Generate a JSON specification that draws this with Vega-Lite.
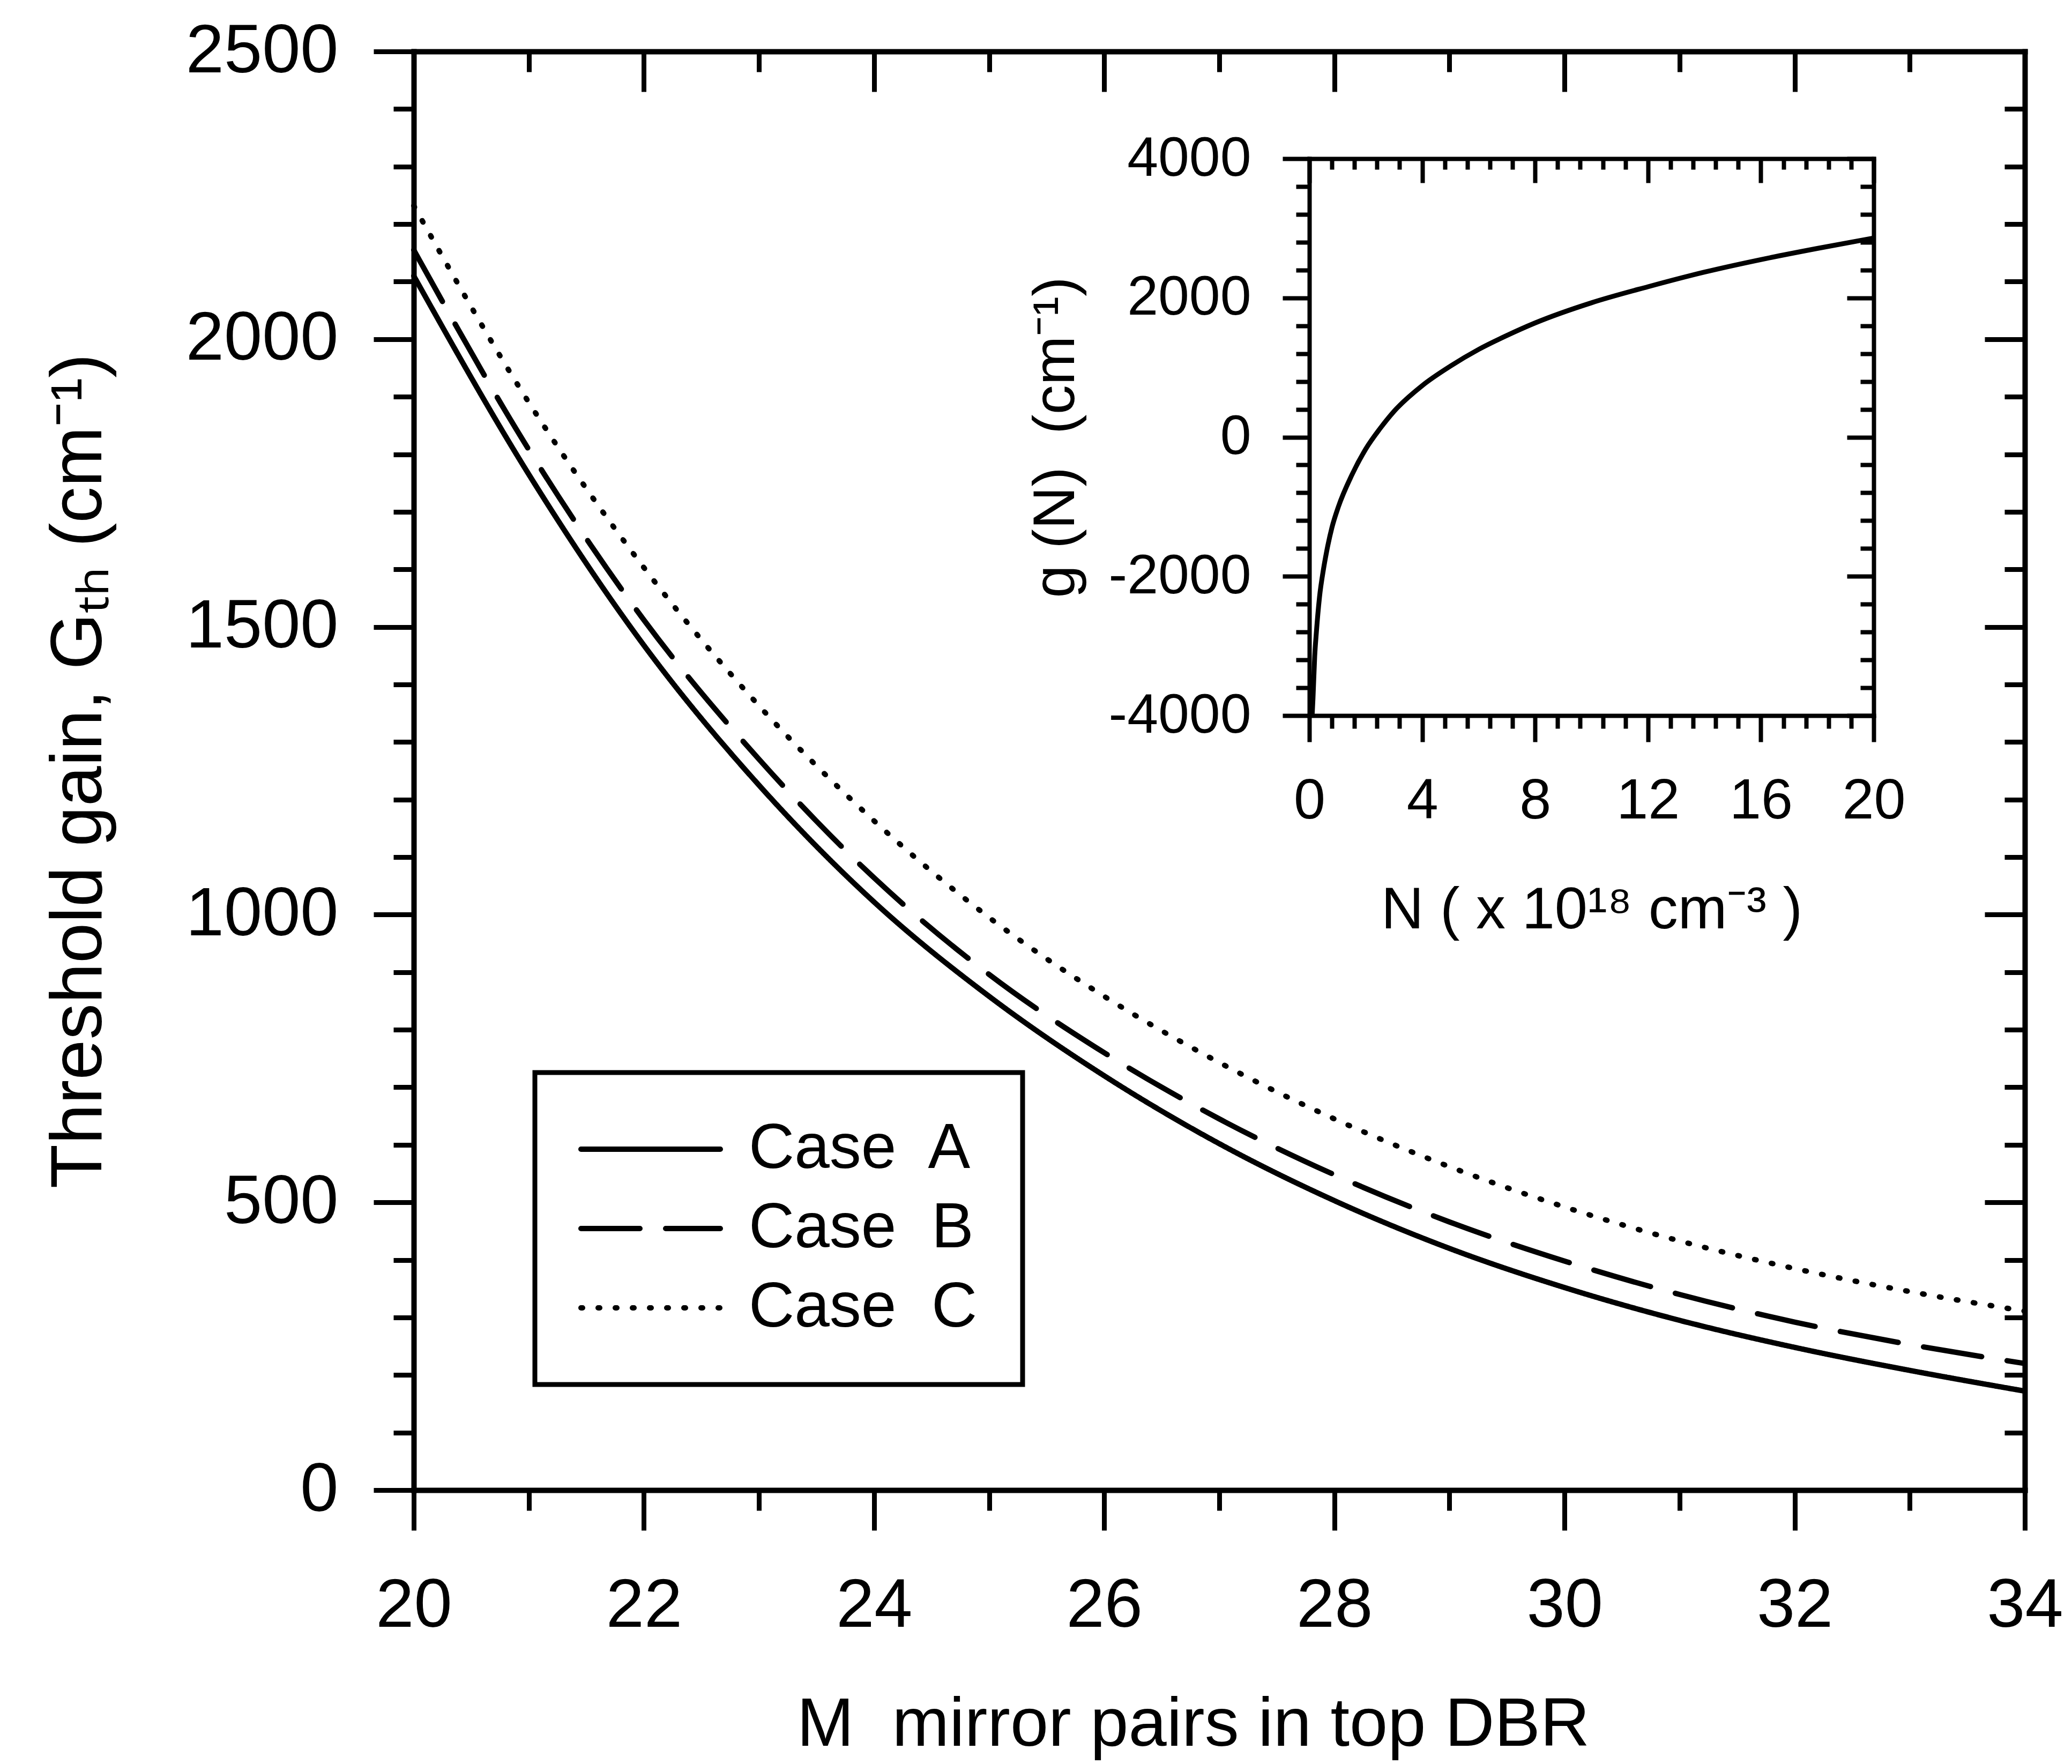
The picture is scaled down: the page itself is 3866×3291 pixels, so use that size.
{
  "$schema": "https://vega.github.io/schema/vega-lite/v6.json",
  "width": 3006,
  "height": 2684,
  "autosize": {"type": "none"},
  "padding": {"left": 772, "top": 96, "right": 88, "bottom": 511},
  "background": "white",
  "config": {
    "view": {"stroke": null},
    "font": "Liberation Sans",
    "axis": {
      "grid": false,
      "domainColor": "black",
      "tickColor": "black",
      "labelColor": "black",
      "titleColor": "black",
      "domainWidth": 10,
      "tickWidth": 9,
      "domainCap": "square",
      "labelFont": "Liberation Sans",
      "titleFont": "Liberation Sans",
      "titleFontWeight": "normal",
      "labelFlush": false,
      "labelOverlap": false,
      "labelBound": false,
      "labelLimit": 0,
      "titleLimit": 0,
      "maxExtent": 1000
    },
    "legend": {
      "strokeColor": "black",
      "strokeWidth": 9,
      "padding": 84,
      "labelFont": "Liberation Sans",
      "labelFontSize": 118,
      "labelColor": "black",
      "labelLimit": 0,
      "rowPadding": 30,
      "symbolStrokeColor": "black",
      "symbolStrokeWidth": 10
    }
  },
  "datasets": {
    "main": [
      {"M": 20, "case": "Case\u00a0 A", "G": 2110}, {"M": 21, "case": "Case\u00a0 A", "G": 1765}, {"M": 22, "case": "Case\u00a0 A", "G": 1468},
      {"M": 23, "case": "Case\u00a0 A", "G": 1225}, {"M": 24, "case": "Case\u00a0 A", "G": 1022}, {"M": 25, "case": "Case\u00a0 A", "G": 858},
      {"M": 26, "case": "Case\u00a0 A", "G": 720}, {"M": 27, "case": "Case\u00a0 A", "G": 602}, {"M": 28, "case": "Case\u00a0 A", "G": 503},
      {"M": 29, "case": "Case\u00a0 A", "G": 420}, {"M": 30, "case": "Case\u00a0 A", "G": 352}, {"M": 31, "case": "Case\u00a0 A", "G": 295},
      {"M": 32, "case": "Case\u00a0 A", "G": 248}, {"M": 33, "case": "Case\u00a0 A", "G": 208}, {"M": 34, "case": "Case\u00a0 A", "G": 172},
      {"M": 20, "case": "Case\u00a0 B", "G": 2155}, {"M": 21, "case": "Case\u00a0 B", "G": 1808}, {"M": 22, "case": "Case\u00a0 B", "G": 1512},
      {"M": 23, "case": "Case\u00a0 B", "G": 1270}, {"M": 24, "case": "Case\u00a0 B", "G": 1064}, {"M": 25, "case": "Case\u00a0 B", "G": 896},
      {"M": 26, "case": "Case\u00a0 B", "G": 760}, {"M": 27, "case": "Case\u00a0 B", "G": 645}, {"M": 28, "case": "Case\u00a0 B", "G": 548},
      {"M": 29, "case": "Case\u00a0 B", "G": 466}, {"M": 30, "case": "Case\u00a0 B", "G": 398}, {"M": 31, "case": "Case\u00a0 B", "G": 340},
      {"M": 32, "case": "Case\u00a0 B", "G": 292}, {"M": 33, "case": "Case\u00a0 B", "G": 253}, {"M": 34, "case": "Case\u00a0 B", "G": 220},
      {"M": 20, "case": "Case\u00a0 C", "G": 2232}, {"M": 21, "case": "Case\u00a0 C", "G": 1890}, {"M": 22, "case": "Case\u00a0 C", "G": 1603},
      {"M": 23, "case": "Case\u00a0 C", "G": 1363}, {"M": 24, "case": "Case\u00a0 C", "G": 1163}, {"M": 25, "case": "Case\u00a0 C", "G": 995},
      {"M": 26, "case": "Case\u00a0 C", "G": 858}, {"M": 27, "case": "Case\u00a0 C", "G": 743}, {"M": 28, "case": "Case\u00a0 C", "G": 645},
      {"M": 29, "case": "Case\u00a0 C", "G": 562}, {"M": 30, "case": "Case\u00a0 C", "G": 492}, {"M": 31, "case": "Case\u00a0 C", "G": 433},
      {"M": 32, "case": "Case\u00a0 C", "G": 385}, {"M": 33, "case": "Case\u00a0 C", "G": 345}, {"M": 34, "case": "Case\u00a0 C", "G": 311}
    ],
    "inset": [
      {"N": 0.1, "g": -4000}, {"N": 0.13, "g": -3750}, {"N": 0.19, "g": -3150}, {"N": 0.25, "g": -2800},
      {"N": 0.36, "g": -2300}, {"N": 0.5, "g": -1900}, {"N": 0.61, "g": -1650}, {"N": 0.8, "g": -1300},
      {"N": 1.03, "g": -1000}, {"N": 1.5, "g": -550}, {"N": 2.0, "g": -170}, {"N": 2.5, "g": 120},
      {"N": 3.0, "g": 370}, {"N": 4.0, "g": 740}, {"N": 5.0, "g": 1020}, {"N": 6.0, "g": 1260},
      {"N": 7.0, "g": 1460}, {"N": 8.0, "g": 1640}, {"N": 10, "g": 1930}, {"N": 12, "g": 2160},
      {"N": 14, "g": 2370}, {"N": 16, "g": 2550}, {"N": 18, "g": 2710}, {"N": 20, "g": 2860}
    ]
  },
  "resolve": {"scale": {"x": "independent", "y": "independent"}},
  "layer": [
    {
      "data": {"name": "main"},
      "resolve": {"axis": {"x": "independent", "y": "independent"}},
      "layer": [
        {
          "mark": {"type": "line", "color": "black", "strokeWidth": 10, "strokeCap": "round", "interpolate": "monotone"},
          "encoding": {
            "x": {"field": "M", "type": "quantitative",
              "scale": {"domain": [20, 34], "nice": false, "zero": false},
              "axis": {"orient": "bottom", "values": [20, 22, 24, 26, 28, 30, 32, 34], "tickSize": 75,
                "labelFontSize": 128, "labelPadding": 78,
                "title": "M\u00a0 mirror pairs in top DBR", "titleFontSize": 128, "titlePadding": 95, "titleX": 1454}},
            "y": {"field": "G", "type": "quantitative",
              "scale": {"domain": [0, 2500], "nice": false, "zero": false},
              "axis": {"orient": "left", "values": [0, 500, 1000, 1500, 2000, 2500], "tickSize": 75, "format": "d",
                "labelFontSize": 128, "labelPadding": 66,
                "title": "Threshold gain, G\u209c\u2095 (cm\u207b\u00b9)", "titleFontSize": 135, "titlePadding": 130}},
            "strokeDash": {"field": "case", "type": "nominal",
              "scale": {"domain": ["Case\u00a0 A", "Case\u00a0 B", "Case\u00a0 C"], "range": [[1, 0], [110, 48], [3, 29]]},
              "legend": {"orient": "none", "legendX": 226, "legendY": 1905, "title": null,
                "symbolType": "M-5,0H5", "symbolSize": 2704, "symbolOffset": 73, "labelOffset": 124,
                "encoding": {"symbols": {"strokeCap": {"value": "round"}}, "legend": {"strokeWidth": {"value": 9}}}}}
          }
        },
        {
          "mark": {"type": "point", "opacity": 0},
          "encoding": {
            "x": {"field": "M", "type": "quantitative", "scale": {"domain": [20, 34], "nice": false, "zero": false},
              "axis": {"orient": "bottom", "values": [21, 23, 25, 27, 29, 31, 33], "tickSize": 38, "labels": false, "domain": false, "title": null}},
            "y": {"field": "G", "type": "quantitative", "scale": {"domain": [0, 2500], "nice": false, "zero": false},
              "axis": {"orient": "left", "values": [100, 200, 300, 400, 600, 700, 800, 900, 1100, 1200, 1300, 1400, 1600, 1700, 1800, 1900, 2100, 2200, 2300, 2400], "tickSize": 38, "labels": false, "domain": false, "title": null}}
          }
        },
        {
          "mark": {"type": "point", "opacity": 0},
          "encoding": {
            "x": {"field": "M", "type": "quantitative", "scale": {"domain": [20, 34], "nice": false, "zero": false},
              "axis": {"orient": "top", "values": [20, 22, 24, 26, 28, 30, 32, 34], "tickSize": -75, "labels": false, "title": null}},
            "y": {"field": "G", "type": "quantitative", "scale": {"domain": [0, 2500], "nice": false, "zero": false},
              "axis": {"orient": "right", "values": [0, 500, 1000, 1500, 2000, 2500], "tickSize": -75, "labels": false, "title": null}}
          }
        },
        {
          "mark": {"type": "point", "opacity": 0},
          "encoding": {
            "x": {"field": "M", "type": "quantitative", "scale": {"domain": [20, 34], "nice": false, "zero": false},
              "axis": {"orient": "top", "values": [21, 23, 25, 27, 29, 31, 33], "tickSize": -38, "labels": false, "domain": false, "title": null}},
            "y": {"field": "G", "type": "quantitative", "scale": {"domain": [0, 2500], "nice": false, "zero": false},
              "axis": {"orient": "right", "values": [100, 200, 300, 400, 600, 700, 800, 900, 1100, 1200, 1300, 1400, 1600, 1700, 1800, 1900, 2100, 2200, 2300, 2400], "tickSize": -38, "labels": false, "domain": false, "title": null}}
          }
        }
      ]
    },
    {
      "data": {"name": "inset"},
      "resolve": {"axis": {"x": "independent", "y": "independent"}},
      "layer": [
        {
          "mark": {"type": "line", "color": "black", "strokeWidth": 9, "interpolate": "monotone"},
          "encoding": {
            "x": {"field": "N", "type": "quantitative",
              "scale": {"domain": [0, 20], "range": [1671, 2724], "nice": false, "zero": false},
              "axis": {"orient": "bottom", "offset": -1445, "values": [0, 4, 8, 12, 16, 20], "tickSize": 49, "domainWidth": 8, "tickWidth": 8,
                "labelFontSize": 106, "labelPadding": 58,
                "title": "N ( x 10\u00b9\u2078 cm\u207b\u00b3 )", "titleFontSize": 110, "titlePadding": 97}},
            "y": {"field": "g", "type": "quantitative",
              "scale": {"domain": [-4000, 4000], "range": [1239, 200], "nice": false, "zero": false},
              "axis": {"orient": "left", "offset": -1671, "values": [-4000, -2000, 0, 2000, 4000], "tickSize": 50, "domainWidth": 8, "tickWidth": 8,
                "labelExpr": "datum.value < 0 ? '-' + (-datum.value) : '' + datum.value",
                "labelFontSize": 104, "labelPadding": 59,
                "title": "g (N)\u00a0 (cm\u207b\u00b9)", "titleFontSize": 110, "titlePadding": 42}}
          }
        },
        {
          "mark": {"type": "point", "opacity": 0},
          "encoding": {
            "x": {"field": "N", "type": "quantitative", "scale": {"domain": [0, 20], "range": [1671, 2724], "nice": false, "zero": false},
              "axis": {"orient": "bottom", "offset": -1445, "values": [0.8, 1.6, 2.4, 3.2, 4.8, 5.6, 6.4, 7.2, 8.8, 9.6, 10.4, 11.2, 12.8, 13.6, 14.4, 15.2, 16.8, 17.6, 18.4, 19.2], "tickSize": 24, "tickWidth": 8, "labels": false, "domain": false, "title": null}},
            "y": {"field": "g", "type": "quantitative", "scale": {"domain": [-4000, 4000], "range": [1239, 200], "nice": false, "zero": false},
              "axis": {"orient": "left", "offset": -1671, "values": [-3600, -3200, -2800, -2400, -1600, -1200, -800, -400, 400, 800, 1200, 1600, 2400, 2800, 3200, 3600], "tickSize": 25, "tickWidth": 8, "labels": false, "domain": false, "title": null}}
          }
        },
        {
          "mark": {"type": "point", "opacity": 0},
          "encoding": {
            "x": {"field": "N", "type": "quantitative", "scale": {"domain": [0, 20], "range": [1671, 2724], "nice": false, "zero": false},
              "axis": {"orient": "top", "offset": -200, "values": [0, 4, 8, 12, 16, 20], "tickSize": -45, "domainWidth": 8, "tickWidth": 8, "labels": false, "title": null}},
            "y": {"field": "g", "type": "quantitative", "scale": {"domain": [-4000, 4000], "range": [1239, 200], "nice": false, "zero": false},
              "axis": {"orient": "right", "offset": -282, "values": [-4000, -2000, 0, 2000, 4000], "tickSize": -50, "domainWidth": 8, "tickWidth": 8, "labels": false, "title": null}}
          }
        },
        {
          "mark": {"type": "point", "opacity": 0},
          "encoding": {
            "x": {"field": "N", "type": "quantitative", "scale": {"domain": [0, 20], "range": [1671, 2724], "nice": false, "zero": false},
              "axis": {"orient": "top", "offset": -200, "values": [0.8, 1.6, 2.4, 3.2, 4.8, 5.6, 6.4, 7.2, 8.8, 9.6, 10.4, 11.2, 12.8, 13.6, 14.4, 15.2, 16.8, 17.6, 18.4, 19.2], "tickSize": -20, "tickWidth": 8, "labels": false, "domain": false, "title": null}},
            "y": {"field": "g", "type": "quantitative", "scale": {"domain": [-4000, 4000], "range": [1239, 200], "nice": false, "zero": false},
              "axis": {"orient": "right", "offset": -282, "values": [-3600, -3200, -2800, -2400, -1600, -1200, -800, -400, 400, 800, 1200, 1600, 2400, 2800, 3200, 3600], "tickSize": -25, "tickWidth": 8, "labels": false, "domain": false, "title": null}}
          }
        }
      ]
    }
  ]
}
